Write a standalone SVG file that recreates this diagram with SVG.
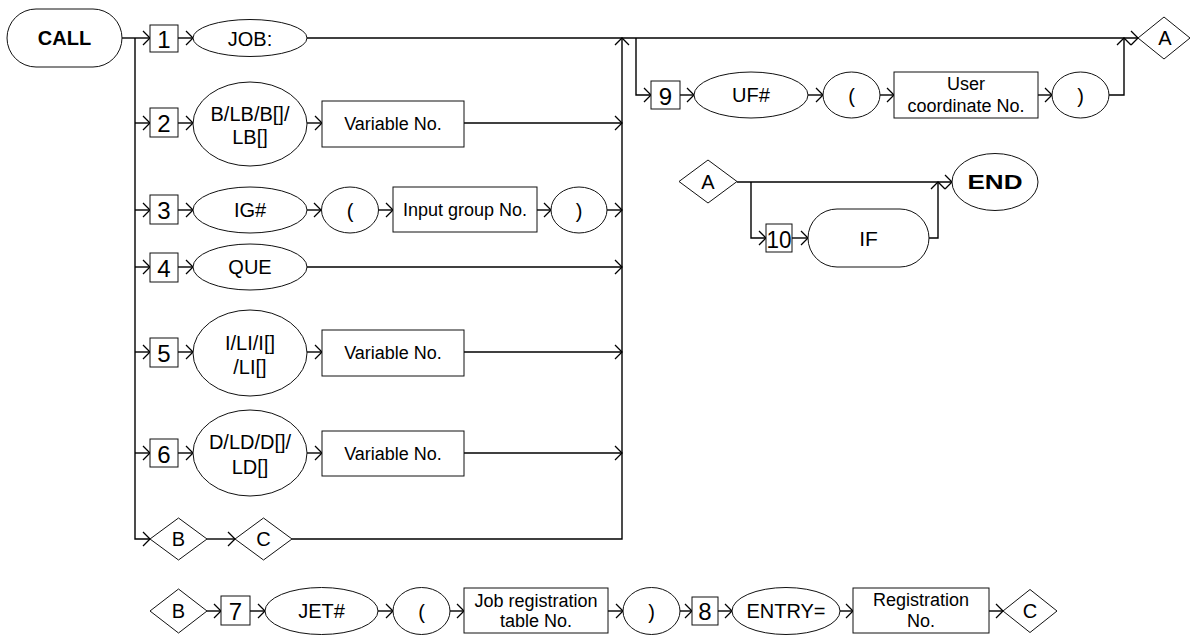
<svg xmlns="http://www.w3.org/2000/svg" width="1192" height="635" viewBox="0 0 1192 635">
<defs>
<marker id="ar" markerUnits="userSpaceOnUse" markerWidth="12" markerHeight="16" refX="8" refY="7" orient="auto" overflow="visible">
<path d="M1,0 L8,7 L1,14" fill="none" stroke="#000" stroke-width="1.3"/>
</marker>
<style>
.s{fill:#fff;stroke:#111;stroke-width:1}
.c{fill:none;stroke:#000;stroke-width:1.4}
.a{marker-end:url(#ar)}
text{font-family:"Liberation Sans",Arial,sans-serif;fill:#000;text-anchor:middle;dominant-baseline:central}
.e{font-size:20px}
.b{font-size:18px}
.n{font-size:24px}
.k{font-size:20px;font-weight:bold}
</style>
</defs>
<rect width="1192" height="635" fill="#fff"/>
<g id="connectors">
<path class="c a" d="M122,38 H150"/>
<path class="c a" d="M135,38 V539 H150"/>
<path class="c a" d="M135,123 H150"/>
<path class="c a" d="M135,210 H150"/>
<path class="c a" d="M135,267 H150"/>
<path class="c a" d="M135,352 H150"/>
<path class="c a" d="M135,453 H150"/>
<path class="c a" d="M178,38 H193"/>
<path class="c a" d="M307,38 H1138"/>
<path class="c a" d="M292,539 H622 V38"/>
<path class="c a" d="M178,123 H193"/>
<path class="c a" d="M307,123 H322"/>
<path class="c a" d="M464,123 H622"/>
<path class="c a" d="M178,210 H193"/>
<path class="c a" d="M307,210 H321"/>
<path class="c a" d="M378,210 H393"/>
<path class="c a" d="M537,210 H551"/>
<path class="c a" d="M607,210 H622"/>
<path class="c a" d="M178,267 H193"/>
<path class="c a" d="M307,267 H622"/>
<path class="c a" d="M178,352 H193"/>
<path class="c a" d="M307,352 H322"/>
<path class="c a" d="M464,352 H622"/>
<path class="c a" d="M178,453 H193"/>
<path class="c a" d="M307,453 H322"/>
<path class="c a" d="M464,453 H622"/>
<path class="c a" d="M207,539 H235"/>
<path class="c a" d="M636,38 V95 H651"/>
<path class="c a" d="M680,95 H694"/>
<path class="c a" d="M808,95 H823"/>
<path class="c a" d="M880,95 H894"/>
<path class="c a" d="M1038,95 H1052"/>
<path class="c a" d="M1109,95 H1124 V38"/>
<path class="c a" d="M737,182 H952"/>
<path class="c a" d="M751,182 V238 H766"/>
<path class="c a" d="M792,238 H808"/>
<path class="c a" d="M929,238 H938 V182"/>
<path class="c a" d="M207,611 H221"/>
<path class="c a" d="M250,611 H265"/>
<path class="c a" d="M378,611 H393"/>
<path class="c a" d="M450,611 H464"/>
<path class="c a" d="M608,611 H623"/>
<path class="c a" d="M680,611 H692"/>
<path class="c a" d="M718,611 H732"/>
<path class="c a" d="M840,611 H853"/>
<path class="c a" d="M989,611 H1003"/>
</g>
<g id="call"><rect class="s" x="7" y="9" width="115" height="58" rx="29"/><text class="k" x="64.5" y="38">CALL</text></g>
<g id="n1"><rect class="s" x="150" y="25" width="28" height="27"/><text class="n" x="164" y="39">1</text></g>
<g id="job"><ellipse class="s" cx="250" cy="38" rx="57" ry="18.5"/><text class="e" x="250" y="39">JOB:</text></g>
<g id="n2"><rect class="s" x="150" y="108" width="28" height="29"/><text class="n" x="164" y="123">2</text></g>
<g id="blb"><ellipse class="s" cx="250" cy="124" rx="57" ry="42"/><text class="e" x="250" y="114">B/LB/B[]/</text><text class="e" x="250" y="137">LB[]</text></g>
<g id="var1"><rect class="s" x="322" y="101" width="142" height="46"/><text class="b" x="393" y="124">Variable No.</text></g>
<g id="n3"><rect class="s" x="150" y="195" width="28" height="29"/><text class="n" x="164" y="210">3</text></g>
<g id="ig"><ellipse class="s" cx="250" cy="210" rx="57" ry="23"/><text class="e" x="250" y="210">IG#</text></g>
<g id="lp1"><ellipse class="s" cx="350" cy="210" rx="28.5" ry="23"/><text class="e" x="350" y="211">(</text></g>
<g id="igno"><rect class="s" x="393" y="187" width="144" height="45"/><text class="b" x="465" y="210">Input group No.</text></g>
<g id="rp1"><ellipse class="s" cx="579" cy="210" rx="28" ry="23"/><text class="e" x="579" y="211">)</text></g>
<g id="n4"><rect class="s" x="150" y="253" width="28" height="29"/><text class="n" x="164" y="268">4</text></g>
<g id="que"><ellipse class="s" cx="250" cy="267" rx="57" ry="23"/><text class="e" x="250" y="267">QUE</text></g>
<g id="n5"><rect class="s" x="150" y="338" width="28" height="29"/><text class="n" x="164" y="353">5</text></g>
<g id="ili"><ellipse class="s" cx="250" cy="353" rx="57" ry="43"/><text class="e" x="250" y="343">I/LI/I[]</text><text class="e" x="250" y="367">/LI[]</text></g>
<g id="var2"><rect class="s" x="322" y="330" width="142" height="46"/><text class="b" x="393" y="353">Variable No.</text></g>
<g id="n6"><rect class="s" x="150" y="439" width="28" height="28"/><text class="n" x="164" y="454">6</text></g>
<g id="dld"><ellipse class="s" cx="250" cy="453" rx="57" ry="43"/><text class="e" x="250" y="442">D/LD/D[]/</text><text class="e" x="250" y="467">LD[]</text></g>
<g id="var3"><rect class="s" x="322" y="431" width="142" height="45"/><text class="b" x="393" y="454">Variable No.</text></g>
<g id="b1"><polygon class="s" points="150,539 178.5,518 207,539 178.5,560"/><text class="e" x="178.5" y="539">B</text></g>
<g id="c1"><polygon class="s" points="235,539 263.5,518 292,539 263.5,560"/><text class="e" x="263.5" y="539">C</text></g>
<g id="n9"><rect class="s" x="651" y="81" width="29" height="28"/><text class="n" x="665.5" y="96">9</text></g>
<g id="uf"><ellipse class="s" cx="751" cy="95" rx="57" ry="23"/><text class="e" x="751" y="95">UF#</text></g>
<g id="lp2"><ellipse class="s" cx="851.5" cy="95" rx="28.5" ry="23"/><text class="e" x="851.5" y="96">(</text></g>
<g id="ucno"><rect class="s" x="894" y="72" width="144" height="46"/><text class="b" x="966" y="84">User</text><text class="b" x="966" y="106">coordinate No.</text></g>
<g id="rp2"><ellipse class="s" cx="1080.5" cy="95" rx="28.5" ry="23"/><text class="e" x="1080.5" y="96">)</text></g>
<g id="a1"><polygon class="s" points="1138,38 1164,17 1190,38 1164,59"/><text class="e" x="1165" y="38">A</text></g>
<g id="a2"><polygon class="s" points="679,181.5 708,160 737,181.5 708,203"/><text class="e" x="708" y="182">A</text></g>
<g id="end"><ellipse class="s" cx="995" cy="182" rx="43" ry="28.5"/><text class="k" x="995" y="182" textLength="55" lengthAdjust="spacingAndGlyphs">END</text></g>
<g id="n10"><rect class="s" x="766" y="224" width="26" height="28"/><text class="n" x="779" y="239" textLength="25" lengthAdjust="spacingAndGlyphs">10</text></g>
<g id="if"><rect class="s" x="808" y="209" width="121" height="58" rx="29"/><text class="e" x="868.5" y="238" style="font-size:21px">IF</text></g>
<g id="b2"><polygon class="s" points="150,611 178.5,589 207,611 178.5,633"/><text class="e" x="178.5" y="611">B</text></g>
<g id="n7"><rect class="s" x="221" y="596" width="29" height="29"/><text class="n" x="235.5" y="611">7</text></g>
<g id="jet"><ellipse class="s" cx="321.5" cy="611" rx="56.5" ry="23.5"/><text class="e" x="321.5" y="611">JET#</text></g>
<g id="lp3"><ellipse class="s" cx="421.5" cy="611" rx="28.5" ry="23.5"/><text class="e" x="421.5" y="612">(</text></g>
<g id="jrt"><rect class="s" x="464" y="588" width="144" height="45"/><text class="b" x="536" y="601">Job registration</text><text class="b" x="536" y="621">table No.</text></g>
<g id="rp3"><ellipse class="s" cx="651.5" cy="611" rx="28.5" ry="23.5"/><text class="e" x="651.5" y="612">)</text></g>
<g id="n8"><rect class="s" x="692" y="597" width="26" height="28"/><text class="n" x="705" y="611">8</text></g>
<g id="entry"><ellipse class="s" cx="786" cy="611" rx="54" ry="23.5"/><text class="e" x="786" y="611">ENTRY=</text></g>
<g id="regno"><rect class="s" x="853" y="588" width="136" height="45"/><text class="b" x="921" y="600">Registration</text><text class="b" x="921" y="621">No.</text></g>
<g id="c2"><polygon class="s" points="1003,611 1030,589.5 1057,611 1030,632.5"/><text class="e" x="1030" y="611">C</text></g>
</svg>
